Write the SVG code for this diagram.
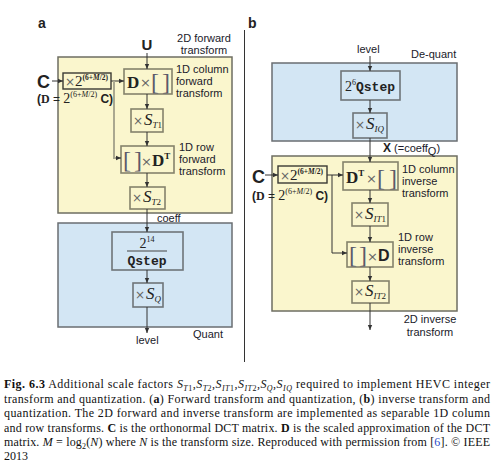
<svg xmlns="http://www.w3.org/2000/svg" width="497" height="470" viewBox="0 0 497 470">
<style>
.yel{fill:#faf6cd;stroke:#6e6e62;stroke-width:1.5}
.blu{fill:#d3e6f4;stroke:#6a6e72;stroke-width:1.5}
.byel{fill:#faf6cd;stroke:#85836c;stroke-width:1.6}
.bblu{fill:#d3e6f4;stroke:#6f7578;stroke-width:1.6}
.bdark{fill:#faf6cd;stroke:#3a3a34;stroke-width:1.4}
.sans{font-family:"Liberation Sans",Arial,sans-serif;fill:#222}
.lbl{font-family:"Liberation Sans",Arial,sans-serif;font-size:11px;fill:#1a1a2a}
.ser{font-family:"Liberation Serif","Times New Roman",serif;fill:#222}
.mono{font-family:"Liberation Mono","Courier New",monospace;font-weight:bold;fill:#222}
.times{fill:#666;font-family:"DejaVu Sans",sans-serif}
.brk{font-family:"Liberation Serif",serif;fill:#5b5a6a}
.cap{font-family:"Liberation Serif","Times New Roman",serif;font-size:12px;fill:#111}
.ln{stroke:#333;stroke-width:1;fill:none}
.br{stroke:#aaa890;stroke-width:2;fill:none}
</style>
<defs>
<marker id="ah" markerWidth="6" markerHeight="6" refX="5" refY="3" orient="auto" markerUnits="userSpaceOnUse">
<path d="M0,0.8 L5,3 L0,5.2 Z" fill="#333"/>
</marker>
</defs>

<!-- separator -->
<line x1="244.5" y1="30" x2="244.5" y2="362" stroke="#333" stroke-width="1"/>

<!-- panel labels -->
<text x="38" y="28" class="sans" font-size="14" font-weight="bold">a</text>
<text x="248" y="28" class="sans" font-size="14" font-weight="bold">b</text>

<!-- ===== Panel a ===== -->
<g id="a-forward">
<rect x="58" y="57" width="174" height="156" class="yel"/>
<text x="204" y="42" class="lbl" text-anchor="middle">2D forward</text>
<text x="204" y="54" class="lbl" text-anchor="middle">transform</text>
</g>
<g id="a-quant">
<rect x="58" y="223" width="174" height="104" class="blu"/>
<text x="193" y="338" class="lbl">Quant</text>
</g>
<g id="a-U"><text x="147" y="50" class="sans" font-size="15" font-weight="bold" text-anchor="middle">U</text></g>
<g id="a-C">
<text x="37" y="88" class="sans" font-size="18" font-weight="bold">C</text>
<text x="37" y="103" font-size="12"><tspan class="sans" font-weight="bold">(</tspan><tspan class="ser" font-weight="bold">D</tspan><tspan class="sans"> = </tspan><tspan class="ser" font-size="14">2</tspan><tspan class="ser" font-size="8" dy="-6">(6+<tspan font-style="italic">M</tspan>/2)</tspan><tspan class="sans" font-weight="bold" dy="6"> C)</tspan></text>
</g>
<g id="a-scale">
<rect x="63" y="73" width="48" height="16" class="bdark"/>
<text x="65" y="86"><tspan class="times" font-size="12">×</tspan><tspan class="ser" font-size="15">2</tspan><tspan class="ser" font-size="7.5" font-weight="bold" dy="-6">(6+<tspan font-style="italic">M</tspan>/2)</tspan></text>
</g>
<g id="a-col">
<rect x="124" y="69" width="48" height="25" class="byel"/>
<text x="127" y="88" class="ser" font-size="17" font-weight="bold">D</text>
<text x="140" y="87" class="times" font-size="13">×</text>
<text x="151" y="90" class="brk" font-size="24">[</text>
<text x="162" y="90" class="brk" font-size="24">]</text>
<text x="176" y="73" class="lbl">1D column</text>
<text x="176" y="85" class="lbl">forward</text>
<text x="176" y="97" class="lbl">transform</text>
</g>
<g id="a-st1">
<rect x="131" y="109" width="32" height="23" class="byel"/>
<text x="133" y="125"><tspan class="times" font-size="12">×</tspan><tspan class="ser" font-size="17" font-style="italic" dx="1">S</tspan><tspan class="ser" font-size="9" font-style="italic" dy="3">T</tspan><tspan class="ser" font-size="9">1</tspan></text>
</g>
<g id="a-row">
<rect x="121" y="146" width="53" height="27" class="byel"/>
<text x="123" y="168" class="brk" font-size="24">[</text>
<text x="134" y="168" class="brk" font-size="24">]</text>
<text x="141" y="166" class="times" font-size="13">×</text>
<text x="152" y="166"><tspan class="ser" font-size="17" font-weight="bold">D</tspan><tspan class="ser" font-size="9" font-weight="bold" dy="-7">T</tspan></text>
<text x="179" y="151" class="lbl">1D row</text>
<text x="179" y="163" class="lbl">forward</text>
<text x="179" y="175" class="lbl">transform</text>
</g>
<g id="a-st2">
<rect x="130" y="187" width="35" height="22" class="byel"/>
<text x="132" y="202"><tspan class="times" font-size="12">×</tspan><tspan class="ser" font-size="17" font-style="italic" dx="1">S</tspan><tspan class="ser" font-size="9" font-style="italic" dy="3">T</tspan><tspan class="ser" font-size="9">2</tspan></text>
</g>
<g id="a-coeff"><text x="157" y="222" class="lbl">coeff</text></g>
<g id="a-qstep">
<rect x="112" y="232" width="71" height="38" class="bblu"/>
<text x="147" y="248" text-anchor="middle"><tspan class="ser" font-size="14">2</tspan><tspan class="ser" font-size="8" dy="-6">14</tspan></text>
<line x1="127" y1="251" x2="167" y2="251" stroke="#444" stroke-width="1"/>
<text x="147" y="265" class="mono" font-size="13" text-anchor="middle">Qstep</text>
</g>
<g id="a-sq">
<rect x="133" y="283" width="30" height="24" class="bblu"/>
<text x="135" y="299"><tspan class="times" font-size="12">×</tspan><tspan class="ser" font-size="17" font-style="italic" dx="1">S</tspan><tspan class="ser" font-size="9" font-style="italic" dy="3">Q</tspan></text>
</g>
<g id="a-level"><text x="136" y="344" class="lbl">level</text></g>

<!-- ===== Panel b ===== -->
<g id="b-dequant">
<rect x="272" y="63" width="185" height="78" class="blu"/>
<text x="411" y="58" class="lbl">De-quant</text>
</g>
<g id="b-inverse">
<rect x="272" y="156" width="185" height="155" class="yel"/>
<text x="430" y="323" class="lbl" text-anchor="middle">2D inverse</text>
<text x="430" y="336" class="lbl" text-anchor="middle">transform</text>
</g>
<g id="b-level"><text x="357" y="53" class="lbl">level</text></g>
<g id="b-qstep">
<rect x="341" y="71" width="59" height="29" class="bblu"/>
<text x="345" y="91"><tspan class="ser" font-size="14">2</tspan><tspan class="ser" font-size="8" dy="-6">6</tspan><tspan class="mono" font-size="13" dy="6">Qstep</tspan></text>
</g>
<g id="b-siq">
<rect x="353" y="113" width="34" height="25" class="bblu"/>
<text x="355" y="129"><tspan class="times" font-size="12">×</tspan><tspan class="ser" font-size="17" font-style="italic" dx="1">S</tspan><tspan class="ser" font-size="9" font-style="italic" dy="3">IQ</tspan></text>
</g>
<g id="b-X">
<text x="383" y="152"><tspan class="sans" font-size="12" font-weight="bold">X</tspan><tspan class="lbl"> (=coeff</tspan><tspan class="lbl" font-size="8" dy="3">Q</tspan><tspan class="lbl" dy="-3">)</tspan></text>
</g>
<g id="b-C">
<text x="252" y="183" class="sans" font-size="18" font-weight="bold">C</text>
<text x="252" y="200" font-size="12"><tspan class="sans" font-weight="bold">(</tspan><tspan class="ser" font-weight="bold">D</tspan><tspan class="sans"> = </tspan><tspan class="ser" font-size="14">2</tspan><tspan class="ser" font-size="8" dy="-6">(6+<tspan font-style="italic">M</tspan>/2)</tspan><tspan class="sans" font-weight="bold" dy="6"> C)</tspan></text>
</g>
<g id="b-scale">
<rect x="278" y="166" width="49" height="17" class="bdark"/>
<text x="280" y="180"><tspan class="times" font-size="12">×</tspan><tspan class="ser" font-size="15">2</tspan><tspan class="ser" font-size="7.5" font-weight="bold" dy="-6">(6+<tspan font-style="italic">M</tspan>/2)</tspan></text>
</g>
<g id="b-col">
<rect x="343" y="162" width="55" height="28" class="byel"/>
<text x="346" y="183"><tspan class="ser" font-size="17" font-weight="bold">D</tspan><tspan class="ser" font-size="9" font-weight="bold" dy="-7">T</tspan></text>
<text x="366" y="183" class="times" font-size="13">×</text>
<text x="377" y="186" class="brk" font-size="24">[</text>
<text x="389" y="186" class="brk" font-size="24">]</text>
<text x="402" y="173" class="lbl">1D column</text>
<text x="402" y="185" class="lbl">inverse</text>
<text x="402" y="197" class="lbl">transform</text>
</g>
<g id="b-sit1">
<rect x="352" y="203" width="36" height="23" class="byel"/>
<text x="354" y="219"><tspan class="times" font-size="12">×</tspan><tspan class="ser" font-size="17" font-style="italic" dx="1">S</tspan><tspan class="ser" font-size="9" font-style="italic" dy="3">IT</tspan><tspan class="ser" font-size="9">1</tspan></text>
</g>
<g id="b-row">
<rect x="347" y="242" width="46" height="25" class="byel"/>
<text x="349" y="263" class="brk" font-size="24">[</text>
<text x="359" y="263" class="brk" font-size="24">]</text>
<text x="367" y="261" class="times" font-size="13">×</text>
<text x="378" y="261" class="sans" font-size="16" font-weight="bold">D</text>
<text x="398" y="241" class="lbl">1D row</text>
<text x="398" y="253" class="lbl">inverse</text>
<text x="398" y="265" class="lbl">transform</text>
</g>
<g id="b-sit2">
<rect x="352" y="281" width="37" height="22" class="byel"/>
<text x="354" y="296"><tspan class="times" font-size="12">×</tspan><tspan class="ser" font-size="17" font-style="italic" dx="1">S</tspan><tspan class="ser" font-size="9" font-style="italic" dy="3">IT</tspan><tspan class="ser" font-size="9">2</tspan></text>
</g>

<!-- ===== Connectors ===== -->
<g id="connectors">
<line x1="147" y1="53" x2="147" y2="69" class="ln" marker-end="url(#ah)"/>
<line x1="52" y1="81" x2="63" y2="81" class="ln" marker-end="url(#ah)"/>
<line x1="111" y1="81" x2="124" y2="81" class="ln" marker-end="url(#ah)"/>
<path d="M114,81 V158 H119" class="br"/>
<line x1="116" y1="158" x2="121" y2="158" class="ln" marker-end="url(#ah)"/>
<line x1="147" y1="94" x2="147" y2="109" class="ln" marker-end="url(#ah)"/>
<line x1="147" y1="132" x2="147" y2="146" class="ln" marker-end="url(#ah)"/>
<line x1="147" y1="173" x2="147" y2="187" class="ln" marker-end="url(#ah)"/>
<line x1="147" y1="209" x2="147" y2="232" class="ln" marker-end="url(#ah)"/>
<line x1="147" y1="270" x2="147" y2="283" class="ln" marker-end="url(#ah)"/>
<line x1="147" y1="307" x2="147" y2="333" class="ln" marker-end="url(#ah)"/>

<line x1="370" y1="56" x2="370" y2="71" class="ln" marker-end="url(#ah)"/>
<line x1="370" y1="100" x2="370" y2="113" class="ln" marker-end="url(#ah)"/>
<line x1="370" y1="138" x2="370" y2="162" class="ln" marker-end="url(#ah)"/>
<line x1="265" y1="175" x2="278" y2="175" class="ln" marker-end="url(#ah)"/>
<line x1="327" y1="175" x2="343" y2="175" class="ln" marker-end="url(#ah)"/>
<path d="M332,175 V253 H347" class="ln" marker-end="url(#ah)"/>
<line x1="370" y1="190" x2="370" y2="203" class="ln" marker-end="url(#ah)"/>
<line x1="370" y1="226" x2="370" y2="242" class="ln" marker-end="url(#ah)"/>
<line x1="370" y1="267" x2="370" y2="281" class="ln" marker-end="url(#ah)"/>
<line x1="370" y1="303" x2="370" y2="330" class="ln" marker-end="url(#ah)"/>
</g>

<!-- ===== Caption ===== -->
<g id="caption">
<text x="4" y="388" class="cap" textLength="486" lengthAdjust="spacing"><tspan font-weight="bold">Fig. 6.3</tspan>   Additional scale factors <tspan font-style="italic">S</tspan><tspan font-size="8" font-style="italic" dy="2.5">T</tspan><tspan font-size="8" dy="0">1</tspan><tspan dy="-2.5">,</tspan><tspan font-style="italic">S</tspan><tspan font-size="8" font-style="italic" dy="2.5">T</tspan><tspan font-size="8">2</tspan><tspan dy="-2.5">,</tspan><tspan font-style="italic">S</tspan><tspan font-size="8" font-style="italic" dy="2.5">IT</tspan><tspan font-size="8">1</tspan><tspan dy="-2.5">,</tspan><tspan font-style="italic">S</tspan><tspan font-size="8" font-style="italic" dy="2.5">IT</tspan><tspan font-size="8">2</tspan><tspan dy="-2.5">,</tspan><tspan font-style="italic">S</tspan><tspan font-size="8" font-style="italic" dy="2.5">Q</tspan><tspan dy="-2.5">,</tspan><tspan font-style="italic">S</tspan><tspan font-size="8" font-style="italic" dy="2.5">IQ</tspan><tspan dy="-2.5">  required to implement HEVC integer</tspan></text>
<text x="4" y="403" class="cap" textLength="486" lengthAdjust="spacing">transform and quantization. (<tspan font-weight="bold">a</tspan>) Forward transform and quantization, (<tspan font-weight="bold">b</tspan>) inverse transform and</text>
<text x="4" y="417" class="cap" textLength="486" lengthAdjust="spacing">quantization. The 2D forward and inverse transform are implemented as separable 1D column</text>
<text x="4" y="432" class="cap" textLength="486" lengthAdjust="spacing">and row transforms. <tspan font-weight="bold">C</tspan> is the orthonormal DCT matrix. <tspan font-weight="bold">D</tspan> is the scaled approximation of the DCT</text>
<text x="4" y="446" class="cap" textLength="486" lengthAdjust="spacing">matrix. <tspan font-style="italic">M</tspan> = log<tspan font-size="8" dy="2.5">2</tspan><tspan dy="-2.5">(</tspan><tspan font-style="italic">N</tspan>) where <tspan font-style="italic">N</tspan> is the transform size. Reproduced with permission from [<tspan fill="#2a4cc8">6</tspan>]. © IEEE</text>
<text x="4" y="460" class="cap">2013</text>
</g>
</svg>
